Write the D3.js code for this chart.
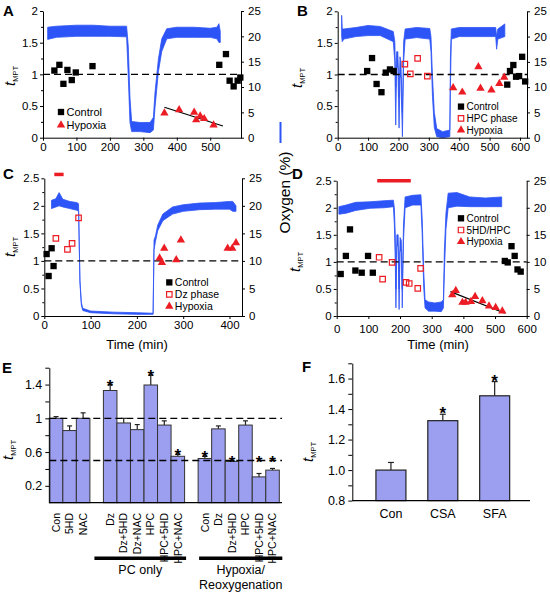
<!DOCTYPE html>
<html><head><meta charset="utf-8">
<script src="https://cdnjs.cloudflare.com/ajax/libs/d3/7.8.5/d3.min.js"></script>
<style>
body{margin:0;background:#fff}
svg{display:block}
</style></head><body>
<svg id="c" width="550" height="598"></svg>
<script>
// ---------------- DATA ----------------
// Panel A
const aO2Time = [14, 40, 100, 150, 200, 250, 255, 260, 265, 290, 320, 330, 335, 345, 355, 370, 400, 450, 500, 520, 526, 530];
const aO2Low  = [19.4, 19.8, 20.0, 20.0, 20.0, 19.9, 12, 3, 1.2, 1.2, 1.0, 1.5, 6, 13, 17, 19.5, 19.8, 19.8, 19.8, 19.5, 18.8, 18.8];
const aO2High = [21.8, 22.0, 22.2, 22.2, 22.0, 22.0, 18, 8, 3.2, 3.0, 3.0, 4, 9, 15.5, 19.5, 21.5, 21.8, 21.8, 21.6, 21.8, 22.5, 21];
const aCtrlTime = [34, 49, 61, 73, 86, 98, 148, 527, 547, 558, 570, 582, 590];
const aCtrlVal  = [1.06, 1.15, 0.85, 1.07, 0.91, 1.03, 1.13, 1.15, 1.32, 0.90, 0.81, 0.90, 0.95];
const aHypTime = [363, 407, 452, 458, 470, 482, 510];
const aHypVal  = [0.39, 0.44, 0.40, 0.28, 0.34, 0.30, 0.20];
const aFitTime = [363, 538];
const aFitVal  = [0.48, 0.185];

// Panel B
const bO2Time = [13, 15, 20, 60, 100, 140, 183, 188, 191, 194, 198, 202, 205, 208, 213, 217, 222, 260, 303, 307, 312, 318, 326, 345, 369, 371, 374, 400, 450, 520, 523, 527, 550];
const bO2Low  = [20, 19, 19.5, 20, 20.2, 20.2, 19, 15, 2.5, 14, 14, 1.9, 12, 12, 0.2, 15, 19.5, 19.8, 19.5, 17, 8, 2, 0.2, 0, 0.2, 10, 19.5, 20, 20, 20, 17.5, 19.5, 20];
const bO2High = [24.2, 21.5, 21.5, 21.8, 22.2, 22, 21, 19, 10, 17, 17, 8, 16, 15, 5, 19, 21.5, 21.8, 21.6, 20, 12, 5, 1.8, 1.2, 1.5, 16, 21.5, 21.8, 21.8, 21.8, 20, 21.5, 22.5];
const bCtrlTime = [97, 113, 128, 144, 158, 172, 184, 558, 567, 578, 587, 597, 607, 617];
const bCtrlVal  = [1.055, 1.26, 0.85, 0.72, 1.03, 1.08, 1.055, 0.84, 1.055, 1.15, 0.965, 0.975, 1.28, 0.89];
const bHpcTime = [221, 239, 263, 295];
const bHpcVal  = [1.165, 1.01, 1.255, 0.975];
const bHypTime = [380, 410, 463, 470, 506, 532, 548];
const bHypVal  = [0.79, 0.72, 1.12, 0.78, 0.755, 0.855, 0.955];

// Panel C
const cO2Time = [15.6, 25, 32, 40, 55, 70, 74, 75, 77, 80, 83, 100, 150, 200, 235, 237, 240, 245, 256, 277, 300, 335, 370, 400, 407, 414];
const cO2Low  = [19.5, 19.8, 20, 19.8, 19.5, 19.2, 19, 15, 6, 2, 1.0, 0.6, 0.4, 0.3, 0.3, 12, 13.5, 15.5, 17.3, 18.5, 19, 19.3, 19.4, 19.4, 19, 19];
const cO2High = [21, 21.3, 22.4, 21.2, 20.8, 20.6, 20.4, 15.5, 6.5, 2.5, 1.4, 0.9, 0.7, 0.6, 0.5, 13.8, 14.5, 16.5, 18.5, 19.8, 20.2, 20.5, 20.6, 20.8, 20.8, 20];
const cCtrlTime = [5, 9.3, 15.8, 20];
const cCtrlVal  = [1.125, 0.726, 1.23, 0.907];
const cDzTime = [25, 50, 60, 74];
const cDzVal  = [1.41, 1.21, 1.32, 1.78];
const cHypTime = [249, 254, 259, 285, 295, 396, 406, 414];
const cHypVal  = [1.05, 0.97, 1.23, 1.02, 1.38, 1.23, 1.23, 1.33];
const cDrugTime = [21.6, 41.7];
const cDrugLevel = 2.57;

// Panel D
const dO2Time = [7, 30, 60, 105, 150, 179, 182, 185, 187, 190, 194, 197, 200, 204, 207, 211, 216, 240, 266, 270, 275, 279, 290, 310, 330, 337, 340, 345, 352, 380, 420, 470, 521];
const dO2Low  = [18.8, 19, 19.5, 19.9, 20, 20.2, 17, 10, 1.5, 13, 13, 1.2, 12, 12, 1.5, 14, 20, 20.5, 20.5, 15, 5, 1.5, 0.9, 0.9, 0.8, 1.5, 8, 16, 20, 20.3, 20.2, 20.2, 20.2];
const dO2High = [20.2, 20.5, 21, 21.1, 21.3, 21.4, 20, 15, 5, 15, 15, 5, 14.5, 14, 5, 17, 22, 22.3, 22.4, 18, 8, 3, 2.6, 2.4, 2.6, 3, 12, 19, 22.7, 22.8, 22, 21.8, 22];
const dCtrlTime = [12.6, 29, 42, 59, 79, 99, 114, 531, 540, 552, 562, 571, 581];
const dCtrlVal  = [0.776, 1.11, 1.60, 0.84, 0.80, 1.11, 0.80, 1.017, 0.99, 1.29, 1.11, 0.86, 0.82];
const d5hdTime = [134, 145, 175, 219, 229, 256, 265];
const d5hdVal  = [1.085, 0.68, 0.99, 0.62, 0.60, 0.51, 0.88];
const dHypTime = [365, 376, 397, 407, 424, 437, 460, 481, 502, 523];
const dHypVal  = [0.39, 0.47, 0.25, 0.25, 0.265, 0.36, 0.28, 0.185, 0.155, 0.09];
const dFitTime = [359, 531];
const dFitVal  = [0.45, 0.05];
const dDrugTime = [128, 234];
const dDrugLevel = 2.5;

// Panel E
const eBaseCats = ["Con", "5HD", "NAC"];
const eBaseVals = [1.0, 0.855, 1.0];
const eBaseErr  = [0.02, 0.055, 0.065];
const eBaseStar = [false, false, false];
const ePcCats = ["Dz", "Dz+5HD", "Dz+NAC", "HPC", "HPC+5HD", "HPC+NAC"];
const ePcVals = [1.33, 0.945, 0.866, 1.395, 0.92, 0.55];
const ePcErr  = [0.07, 0.055, 0.06, 0.115, 0.05, 0.022];
const ePcStar = [true, false, false, true, false, true];
const eHypCats = ["Con", "Dz", "Dz+5HD", "HPC", "HPC+5HD", "HPC+NAC"];
const eHypVals = [0.524, 0.875, 0.49, 0.92, 0.306, 0.386];
const eHypErr  = [0.025, 0.035, 0.01, 0.05, 0.04, 0.02];
const eHypStar = [true, false, true, false, true, true];
const eGroupNames = ["PC only", "Hypoxia/Reoxygenation"];

// Panel F
const fCats = ["Con", "CSA", "SFA"];
const fVals = [1.0, 1.324, 1.487];
const fErr  = [0.05, 0.042, 0.093];
const fStar = [false, true, true];

// ---------------- STYLE ----------------
const FONT = '"Liberation Sans", Arial, Helvetica, sans-serif';
const BLUE = "#2d54f6";
const RED = "#ec1c24";
const BARFILL = "#9c9ef0";
const svg = d3.select("#c").attr("font-family", FONT);

function styleAxis(g, fs) {
  g.attr("font-family", FONT).attr("font-size", fs);
  g.selectAll("path,line").attr("stroke", "#000").attr("stroke-width", 1);
  g.selectAll("text").attr("fill", "#000");
}

function yTitle(x, y, parent) {
  const t = (parent || svg).append("text")
    .attr("transform", `translate(${x},${y}) rotate(-90)`)
    .attr("text-anchor", "middle");
  t.append("tspan").attr("font-style", "italic").attr("font-size", 15).text("t");
  t.append("tspan").attr("font-size", 7.5).attr("dy", 3).text("MPT");
}

function panelLabel(txt, x, y) {
  svg.append("text").attr("x", x).attr("y", y).attr("font-weight", "bold")
    .attr("font-size", 15).text(txt);
}

function marker(g, type, cx, cy) {
  if (type === "sq") {
    g.append("path").attr("d", d3.symbol().type(d3.symbolSquare).size(40)())
      .attr("transform", `translate(${cx},${cy})`).attr("fill", "#000");
  } else if (type === "open") {
    g.append("path").attr("d", d3.symbol().type(d3.symbolSquare).size(30)())
      .attr("transform", `translate(${cx},${cy})`).attr("fill", "none")
      .attr("stroke", RED).attr("stroke-width", 1.2);
  } else {
    g.append("path").attr("d", d3.symbol().type(d3.symbolTriangle).size(30)())
      .attr("transform", `translate(${cx},${cy})`).attr("fill", RED);
  }
}

function tracePanel(o) {
  const g = svg.append("g");
  const x = d3.scaleLinear().domain([0, o.xMax]).range([o.L, o.R]);
  const y = d3.scaleLinear().domain([0, o.yMax]).range([o.B, o.T]);
  const y2 = d3.scaleLinear().domain([0, 25]).range([o.B, o.T]);

  const idx = d3.range(o.o2t.length);
  g.append("path").datum(idx)
    .attr("d", d3.area().x(i => x(o.o2t[i])).y0(i => y2(o.o2lo[i])).y1(i => y2(o.o2hi[i])))
    .attr("fill", BLUE).attr("stroke", BLUE).attr("stroke-width", 0.8);

  g.append("line").attr("x1", x(0)).attr("x2", x(o.xMax)).attr("y1", y(1)).attr("y2", y(1))
    .attr("stroke", "#000").attr("stroke-width", 1.3).attr("stroke-dasharray", "7,4");

  if (o.drug) {
    g.append("line").attr("x1", x(o.drug[0])).attr("x2", x(o.drug[1]))
      .attr("y1", y(o.drugLevel)).attr("y2", y(o.drugLevel))
      .attr("stroke", RED).attr("stroke-width", 3.5);
  }
  if (o.fitT) {
    g.append("line").attr("x1", x(o.fitT[0])).attr("x2", x(o.fitT[1]))
      .attr("y1", y(o.fitV[0])).attr("y2", y(o.fitV[1]))
      .attr("stroke", "#000").attr("stroke-width", 1.2);
  }
  o.series.forEach(s => {
    s.t.forEach((t, i) => marker(g, s.type, x(t), y(s.v[i])));
  });

  const ax = g.append("g").attr("transform", `translate(${o.L},0)`)
    .call(d3.axisLeft(y).tickValues(o.yMajor).tickSize(3).tickSizeOuter(0).tickPadding(2).tickFormat(d3.format("~g")));
  styleAxis(ax, 11.5);
  const axm = g.append("g").attr("transform", `translate(${o.L},0)`)
    .call(d3.axisLeft(y).tickValues(o.yMinor).tickSize(2).tickSizeOuter(0).tickFormat(""));
  styleAxis(axm, 11.5); axm.select(".domain").remove();
  const ar = g.append("g").attr("transform", `translate(${o.R},0)`)
    .call(d3.axisRight(y2).tickValues([0, 5, 10, 15, 20, 25]).tickSize(3).tickSizeOuter(0).tickPadding(4));
  styleAxis(ar, 11.5);
  const ab = g.append("g").attr("transform", `translate(0,${o.B})`)
    .call(d3.axisBottom(x).tickValues(o.xTicks).tickSize(3).tickSizeOuter(0).tickPadding(o.xPad || 2));
  styleAxis(ab, 11.5);

  const lg = g.append("g");
  o.legend.items.forEach((it, i) => {
    const ly = o.legend.y + i * o.legend.dy;
    marker(lg, it.type, o.legend.x, ly);
    lg.append("text").attr("x", o.legend.x + 5.5).attr("y", ly).attr("dy", "0.36em")
      .attr("font-size", o.legend.fs).text(it.label);
  });
}

tracePanel({
  L: 43, R: 241, T: 11, B: 137.7, xMax: 592, yMax: 2,
  yMajor: [0, 0.5, 1, 1.5, 2], yMinor: [0.25, 0.75, 1.25, 1.75],
  xTicks: [0, 100, 200, 300, 400, 500],
  o2t: aO2Time, o2lo: aO2Low, o2hi: aO2High,
  series: [{t: aCtrlTime, v: aCtrlVal, type: "sq"}, {t: aHypTime, v: aHypVal, type: "tri"}],
  fitT: aFitTime, fitV: aFitVal,
  legend: {x: 61, y: 112, dy: 13, fs: 11, items: [{type: "sq", label: "Control"}, {type: "tri", label: "Hypoxia"}]}
});
tracePanel({
  L: 337.7, R: 527, T: 11.3, B: 137.7, xMax: 623, yMax: 2,
  yMajor: [0, 0.5, 1, 1.5, 2], yMinor: [0.25, 0.75, 1.25, 1.75],
  xTicks: [0, 100, 200, 300, 400, 500, 600],
  o2t: bO2Time, o2lo: bO2Low, o2hi: bO2High,
  series: [{t: bCtrlTime, v: bCtrlVal, type: "sq"}, {t: bHpcTime, v: bHpcVal, type: "open"}, {t: bHypTime, v: bHypVal, type: "tri"}],
  legend: {x: 461, y: 106.6, dy: 11.7, fs: 10, items: [{type: "sq", label: "Control"}, {type: "open", label: "HPC phase"}, {type: "tri", label: "Hypoxia"}]}
});
tracePanel({
  L: 44.3, R: 242, T: 178.3, B: 316, xMax: 427, yMax: 2.5,
  yMajor: [0, 0.5, 1, 1.5, 2, 2.5], yMinor: [0.25, 0.75, 1.25, 1.75, 2.25],
  xTicks: [0, 100, 200, 300, 400],
  o2t: cO2Time, o2lo: cO2Low, o2hi: cO2High,
  series: [{t: cCtrlTime, v: cCtrlVal, type: "sq"}, {t: cDzTime, v: cDzVal, type: "open"}, {t: cHypTime, v: cHypVal, type: "tri"}],
  drug: cDrugTime, drugLevel: cDrugLevel,
  legend: {x: 169.3, y: 282.4, dy: 12, fs: 10.5, items: [{type: "sq", label: "Control"}, {type: "open", label: "Dz phase"}, {type: "tri", label: "Hypoxia"}]}
});
tracePanel({
  L: 336.7, R: 526.7, T: 180.7, B: 316, xMax: 600, yMax: 2.5, xPad: 6,
  yMajor: [0, 0.5, 1, 1.5, 2, 2.5], yMinor: [0.25, 0.75, 1.25, 1.75, 2.25],
  xTicks: [0, 100, 200, 300, 400, 500, 600],
  o2t: dO2Time, o2lo: dO2Low, o2hi: dO2High,
  series: [{t: dCtrlTime, v: dCtrlVal, type: "sq"}, {t: d5hdTime, v: d5hdVal, type: "open"}, {t: dHypTime, v: dHypVal, type: "tri"}],
  fitT: dFitTime, fitV: dFitVal,
  drug: dDrugTime, drugLevel: dDrugLevel,
  legend: {x: 461, y: 218.3, dy: 11.7, fs: 10, items: [{type: "sq", label: "Control"}, {type: "open", label: "5HD/HPC"}, {type: "tri", label: "Hypoxia"}]}
});

panelLabel("A", 3, 16); panelLabel("B", 297, 16);
panelLabel("C", 3, 179); panelLabel("D", 292, 179);
yTitle(15, 76); yTitle(302, 78); yTitle(15, 247); yTitle(300, 262);
svg.append("line").attr("x1", 280.5).attr("x2", 280.5).attr("y1", 122).attr("y2", 143)
  .attr("stroke", BLUE).attr("stroke-width", 2);
svg.append("text").attr("transform", "translate(289.5,192.5) rotate(-90)").attr("text-anchor", "middle")
  .attr("font-size", 15.5).text("Oxygen (%)");
svg.append("text").attr("x", 137).attr("y", 349).attr("text-anchor", "middle").attr("font-size", 13).text("Time (min)");
svg.append("text").attr("x", 438).attr("y", 349).attr("text-anchor", "middle").attr("font-size", 13).text("Time (min)");

// ---------------- Panel E ----------------
(function () {
  const g = svg.append("g");
  const rows = [];
  eBaseCats.forEach((c, i) => rows.push({key: "b" + i, label: c, v: eBaseVals[i], e: eBaseErr[i], s: eBaseStar[i]}));
  rows.push({key: "gap1"});
  ePcCats.forEach((c, i) => rows.push({key: "p" + i, label: c, v: ePcVals[i], e: ePcErr[i], s: ePcStar[i]}));
  rows.push({key: "gap2"});
  eHypCats.forEach((c, i) => rows.push({key: "h" + i, label: c, v: eHypVals[i], e: eHypErr[i], s: eHypStar[i]}));
  const L = 49.3, R = 282, B = 502.7, T = 367.7;
  const x = d3.scaleBand().domain(rows.map(r => r.key)).range([L, 279.3]).padding(0);
  const y = d3.scaleLinear().domain([0, 1.6]).range([B, T]);
  const bw = x.bandwidth();
  const bars = rows.filter(r => r.v !== undefined);

  bars.forEach(r => {
    const cx = x(r.key) + bw / 2;
    g.append("line").attr("x1", cx).attr("x2", cx).attr("y1", y(r.v)).attr("y2", y(r.v + r.e))
      .attr("stroke", "#222").attr("stroke-width", 1.2);
    g.append("line").attr("x1", cx - 2.5).attr("x2", cx + 2.5).attr("y1", y(r.v + r.e)).attr("y2", y(r.v + r.e))
      .attr("stroke", "#222").attr("stroke-width", 1.2);
  });
  bars.forEach(r => {
    g.append("rect").attr("x", x(r.key)).attr("width", bw).attr("y", y(r.v)).attr("height", B - y(r.v))
      .attr("fill", BARFILL).attr("stroke", "#333").attr("stroke-width", 1);
  });
  [1.0, 0.5].forEach(v => g.append("line").attr("x1", L).attr("x2", R).attr("y1", y(v)).attr("y2", y(v))
    .attr("stroke", "#000").attr("stroke-width", 1.3).attr("stroke-dasharray", "7,4"));
  bars.filter(r => r.s).forEach(r => {
    const top = Math.min(y(r.v + r.e), y(0.5));
    g.append("text").attr("x", x(r.key) + bw / 2).attr("y", top + 7).attr("text-anchor", "middle")
      .attr("font-size", 17).attr("font-weight", "bold").text("*");
  });
  const ay = g.append("g").attr("transform", `translate(${L},0)`)
    .call(d3.axisLeft(y).tickValues([0.2, 0.6, 1.0, 1.4]).tickSize(4).tickSizeOuter(0).tickPadding(3).tickFormat(d3.format("~g")));
  styleAxis(ay, 12.5);
  const aym = g.append("g").attr("transform", `translate(${L},0)`)
    .call(d3.axisLeft(y).tickValues([0.4, 0.8, 1.2, 1.6]).tickSize(4).tickSizeOuter(0).tickFormat(""));
  styleAxis(aym, 12); aym.select(".domain").remove();
  g.append("line").attr("x1", L).attr("x2", R).attr("y1", B).attr("y2", B).attr("stroke", "#000").attr("stroke-width", 1.2);
  bars.forEach(r => {
    g.append("text").attr("transform", `translate(${x(r.key) + bw / 2},513) rotate(-90)`)
      .attr("text-anchor", "end").attr("dy", "0.35em").attr("font-size", 10.5).text(r.label);
  });
  const pcL = x("p0") - 9, pcR = x("p5") + bw + 1.5;
  const hL = x("h0") + 1, hR = x("h5") + bw + 3;
  [[pcL, pcR], [hL, hR]].forEach(([a, b]) => g.append("line").attr("x1", a).attr("x2", b)
    .attr("y1", 558.3).attr("y2", 558.3).attr("stroke", "#000").attr("stroke-width", 3.5));
  g.append("text").attr("x", (pcL + pcR) / 2).attr("y", 574).attr("text-anchor", "middle").attr("font-size", 12.5).text(eGroupNames[0]);
  const hn = eGroupNames[1].split("/");
  g.append("text").attr("x", (hL + hR) / 2).attr("y", 574).attr("text-anchor", "middle").attr("font-size", 12.5).text(hn[0] + "/");
  g.append("text").attr("x", (hL + hR) / 2).attr("y", 588.5).attr("text-anchor", "middle").attr("font-size", 12.5).text(hn[1]);
  panelLabel("E", 2, 373);
  yTitle(13, 450);
})();

// ---------------- Panel F ----------------
(function () {
  const g = svg.append("g");
  const L = 352.3, R = 530, B = 500.6, T = 363.3;
  const y = d3.scaleLinear().domain([0.8, 1.7]).range([B, T]);
  const x = d3.scalePoint().domain(fCats).range([365, 520.6]).padding(0.5);
  const bw = 30;
  fCats.forEach((c, i) => {
    const cx = x(c);
    const et = y(fVals[i] + fErr[i]);
    g.append("line").attr("x1", cx).attr("x2", cx).attr("y1", y(fVals[i])).attr("y2", et).attr("stroke", "#222").attr("stroke-width", 1.2);
    g.append("line").attr("x1", cx - 3).attr("x2", cx + 3).attr("y1", et).attr("y2", et).attr("stroke", "#222").attr("stroke-width", 1.2);
    g.append("rect").attr("x", cx - bw / 2).attr("width", bw).attr("y", y(fVals[i])).attr("height", B - y(fVals[i]))
      .attr("fill", BARFILL).attr("stroke", "#222").attr("stroke-width", 1.2);
    if (fStar[i]) g.append("text").attr("x", cx).attr("y", et + 5).attr("text-anchor", "middle")
      .attr("font-size", 17).attr("font-weight", "bold").text("*");
    g.append("text").attr("x", cx).attr("y", 518).attr("text-anchor", "middle").attr("font-size", 12.5).text(c);
  });
  const ay = g.append("g").attr("transform", `translate(${L},0)`)
    .call(d3.axisLeft(y).tickValues([0.8, 1.0, 1.2, 1.4, 1.6]).tickSize(4).tickSizeOuter(0).tickPadding(3).tickFormat(d3.format(".1f")));
  styleAxis(ay, 12.5);
  const aym = g.append("g").attr("transform", `translate(${L},0)`)
    .call(d3.axisLeft(y).tickValues([0.9, 1.1, 1.3, 1.5, 1.7]).tickSize(4).tickSizeOuter(0).tickFormat(""));
  styleAxis(aym, 12); aym.select(".domain").remove();
  g.append("line").attr("x1", L).attr("x2", R).attr("y1", B).attr("y2", B).attr("stroke", "#000").attr("stroke-width", 1.2);
  panelLabel("F", 302, 372);
  yTitle(313, 452);
})();
</script></body></html>
